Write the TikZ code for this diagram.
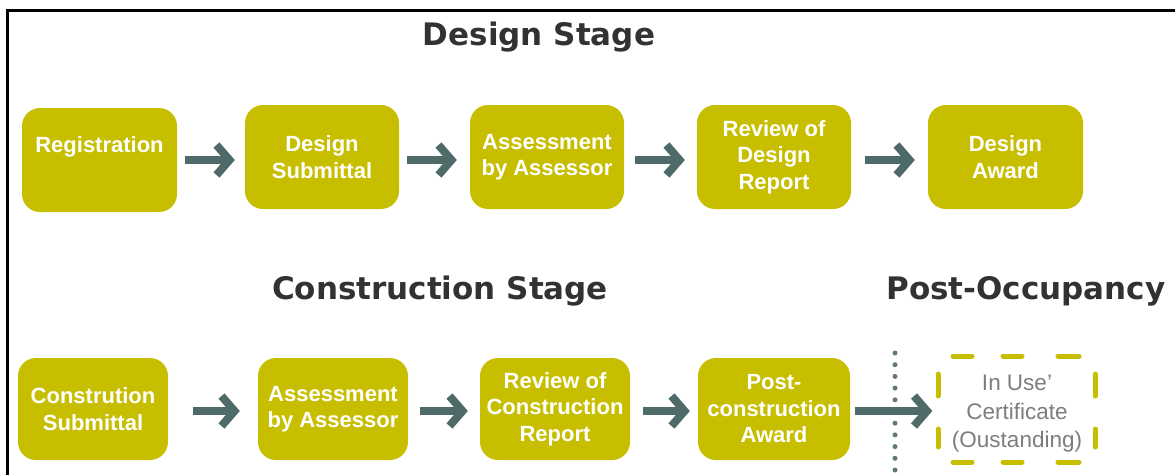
\documentclass[tikz,border=0pt]{standalone}
\usepackage{fontspec}
\setmainfont{Liberation Sans}
\newfontfamily\titlefont{DejaVu Sans}
\usetikzlibrary{arrows.meta}
\definecolor{boxolive}{RGB}{200,190,0}
\definecolor{arrowgray}{RGB}{78,106,105}
\definecolor{titlegray}{RGB}{50,50,50}
\definecolor{certgray}{RGB}{125,125,125}
\tikzset{
  stepbox/.style={rectangle, rounded corners=18pt, fill=boxolive, text=white,
    font=\fontsize{22}{26.5}\selectfont\bfseries, align=center,
    minimum width=154pt, minimum height=104pt, inner sep=0pt},
  lowbox/.style={stepbox, minimum width=150pt, minimum height=102pt},
  certbox/.style={rectangle, text=certgray,
    font=\fontsize{22.5}{28.5}\selectfont, align=center,
    minimum width=157pt, minimum height=106pt, inner sep=0pt},
  certdash/.style={draw=boxolive, line width=5pt, line cap=round},
  flow/.style={draw=arrowgray, line width=8pt,
    -{Straight Barb[length=13pt, width=30pt]}},
  stagetitle/.style={font=\titlefont\fontsize{31}{36}\selectfont\bfseries,
    text=titlegray, anchor=base, inner sep=0pt},
  sepdots/.style={draw=arrowgray!90, line width=5pt, line cap=round,
    dash pattern=on 0pt off 11.7pt}
}
\begin{document}
\begin{tikzpicture}[x=1pt,y=-1pt]
\useasboundingbox (0,0) rectangle (1175,475);
% frame
\draw[line width=3pt] (7,475) -- (7,10) -- (1175,10);

% titles
\node[stagetitle] (t1) at (539,45) {Design Stage};
\node[stagetitle] (t2) at (440,299) {Construction Stage};
\node[stagetitle] (t3) at (1026,299) {Post-Occupancy};

% top row
\node[stepbox, minimum width=155pt] (d1) at (99.5,160) {Registration\\[5pt]~};
\node[stepbox] (d2) at (322,157) {Design\\Submittal};
\node[stepbox] (d3) at (547,157) {Assessment\\by Assessor};
\node[stepbox] (d4) at (774,157) {Review of\\Design\\Report};
\node[stepbox, minimum width=155pt] (d5) at (1005.5,157) {Design\\Award};

\draw[flow, shorten <=8pt, shorten >=10pt] (d1.east |- 0,160) -- (d2.west |- 0,160);
\draw[flow, shorten <=8pt, shorten >=13pt] (d2.east |- 0,160) -- (d3.west |- 0,160);
\draw[flow, shorten <=11pt, shorten >=12pt] (d3.east |- 0,160) -- (d4.west |- 0,160);
\draw[flow, shorten <=14pt, shorten >=13pt] (d4.east |- 0,160) -- (d5.west |- 0,160);

% bottom row
\node[lowbox] (c1) at (93,409) {Constrution\\Submittal};
\node[lowbox] (c2) at (333,409) {Assessment\\by Assessor};
\node[lowbox] (c3) at (555,409) {Review of\\Construction\\Report};
\node[lowbox, minimum width=152pt] (c4) at (774,409) {Post-\\construction\\Award};
\node[certbox] (c5) at (1017,414) {In Use'\\Certificate\\(Oustanding)};
\begin{scope}[shift={(1017,409)}]
  \draw[certdash] (-64,-53) -- (-45,-53);
  \draw[certdash] (-14,-53) -- (5,-53);
  \draw[certdash] (41,-53) -- (62,-53);
  \draw[certdash] (-64,53) -- (-45,53);
  \draw[certdash] (-14,53) -- (5,53);
  \draw[certdash] (41,53) -- (62,53);
  \draw[certdash] (-79,-35) -- (-79,-13);
  \draw[certdash] (-79,20) -- (-79,38);
  \draw[certdash] (78,-35) -- (78,-13);
  \draw[certdash] (78,20) -- (78,38);
\end{scope}

\coordinate (dtop) at (895,353);
\coordinate (dbot) at (895,475);
\draw[sepdots] (dtop) -- (dbot);

\draw[flow, shorten <=25pt, shorten >=18pt] (c1.east |- 0,411) -- (c2.west |- 0,411);
\draw[flow, shorten <=12pt, shorten >=12pt] (c2.east |- 0,411) -- (c3.west |- 0,411);
\draw[flow, shorten <=13pt, shorten >=8pt] (c3.east |- 0,411) -- (c4.west |- 0,411);
\draw[flow, shorten <=5pt, shorten >=6pt] (c4.east |- 0,411) -- (c5.west |- 0,411);
\end{tikzpicture}
\end{document}
